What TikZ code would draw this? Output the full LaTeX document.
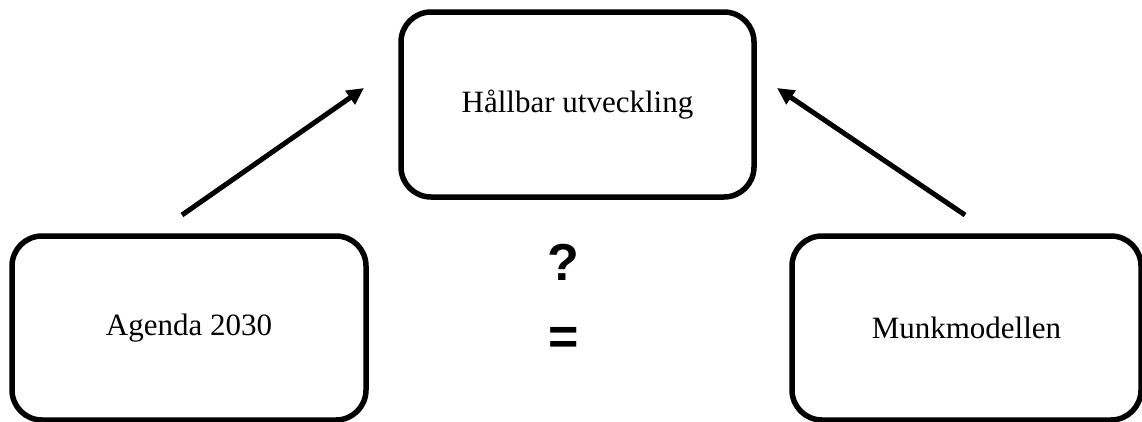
\documentclass[tikz,border=0pt]{standalone}
\usepackage{fontspec}
\setmainfont{Liberation Serif}
\newfontfamily\symfont{Liberation Sans}
\usetikzlibrary{arrows.meta}
\tikzset{
  box/.style={draw=black, line width=5.5pt, rounded corners=30pt, fill=white,
    font=\fontsize{31}{37}\selectfont, inner sep=0pt},
  conn/.style={line width=5pt, -{Triangle[length=17pt,width=16pt]}},
  symb/.style={font=\symfont\bfseries\fontsize{52}{62}\selectfont, inner sep=0pt}
}
\begin{document}
\begin{tikzpicture}[x=1pt,y=-1pt]
\useasboundingbox (0,0) rectangle (1142,421);
\node[box, minimum width=353pt, minimum height=185pt] (top) at (577.5,104.5) {Hållbar utveckling};
\node[box, minimum width=354pt, minimum height=184pt] (left) at (189,328) {Agenda 2030};
\node[box, minimum width=349pt, minimum height=184pt] (right) at (966.5,328) {Munkmodellen};
\node[symb] (q) at (563.5,262.5) {?};
\node[symb] (eq) at (564,340.5) {=};
\coordinate (ls) at (182,215);
\coordinate (le) at (364,88);
\coordinate (rs) at (965,215);
\coordinate (re) at (777,88);
\draw[conn] (ls) -- (le);
\draw[conn] (rs) -- (re);
\end{tikzpicture}
\end{document}
